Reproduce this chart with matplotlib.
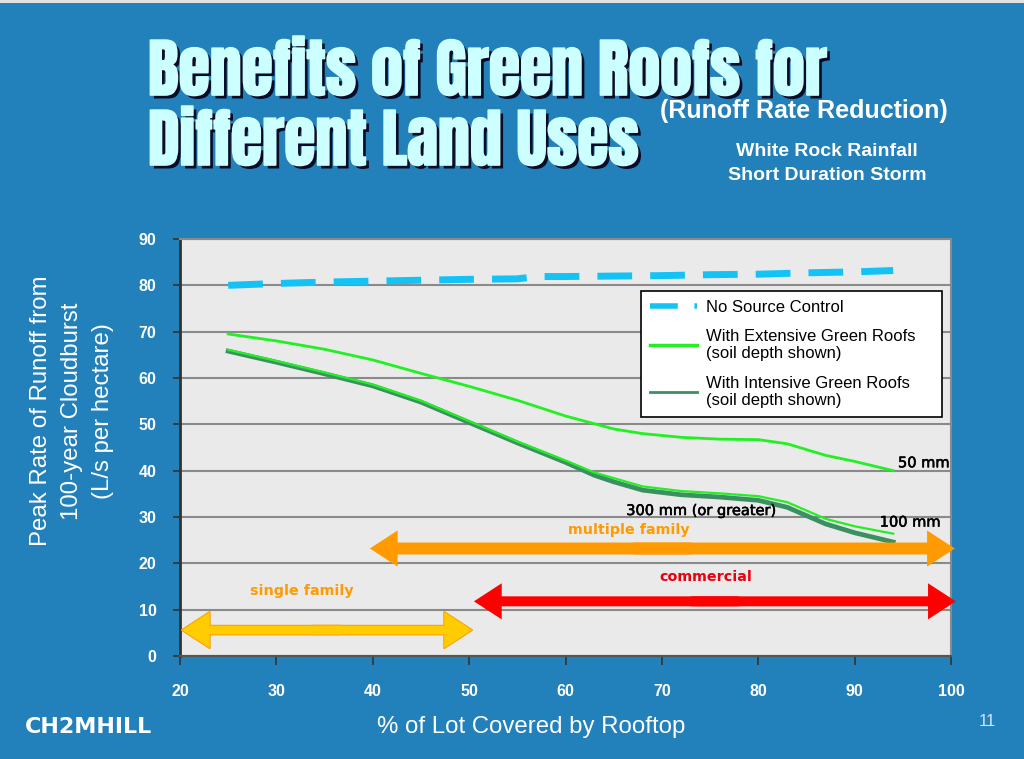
import matplotlib
matplotlib.use("Agg")
import matplotlib.pyplot as plt
from matplotlib import patheffects as pe
from matplotlib.patches import FancyArrowPatch, ArrowStyle, Rectangle
from matplotlib.lines import Line2D

# ---------------- data ----------------
x_ticks = [20, 30, 40, 50, 60, 70, 80, 90, 100]
y_ticks = [0, 10, 20, 30, 40, 50, 60, 70, 80, 90]

x_nosource = [25, 30, 35, 40, 45, 50, 55, 57, 60, 65, 70, 75, 80, 85, 90, 94]
y_nosource = [80.0, 80.4, 80.7, 80.9, 81.1, 81.3, 81.4, 81.9, 81.9, 82.0, 82.1, 82.3, 82.4, 82.7, 82.9, 83.2]

x_ext50 = [25, 30, 35, 40, 45, 50, 55, 60, 65, 68, 72, 76, 80, 83, 87, 90, 94]
y_ext50 = [69.5, 68.0, 66.2, 63.9, 61.0, 58.2, 55.2, 51.8, 49.0, 48.0, 47.2, 46.8, 46.7, 45.8, 43.3, 42.0, 40.0]

x_int300 = [25, 30, 35, 40, 45, 50, 55, 60, 63, 65, 68, 72, 76, 80, 83, 87, 90, 94]
y_int300 = [65.8, 63.4, 60.9, 58.3, 54.8, 50.4, 46.0, 41.8, 39.0, 37.6, 35.8, 34.8, 34.3, 33.6, 32.1, 28.5, 26.6, 24.6]

x_ext100 = [25, 30, 35, 40, 45, 50, 55, 60, 63, 65, 68, 72, 76, 80, 83, 87, 90, 94]
y_ext100 = [66.1, 63.7, 61.2, 58.6, 55.1, 50.7, 46.3, 42.2, 39.6, 38.4, 36.6, 35.6, 35.1, 34.5, 33.2, 29.6, 28.0, 26.4]

# land-use ranges (x start, x end, y level)
land_uses = ["multiple family", "commercial", "single family"]
land_x0 = [39.7, 50.5, 20.2]
land_x1 = [100.4, 100.5, 50.3]
land_y = [23.2, 11.8, 5.6]
land_label_x = [66.6, 74.6, 32.6]
land_label_y = [27.3, 17.0, 14.1]

depth_labels = ["50 mm", "100 mm", "300 mm (or greater)"]
depth_x = [94.5, 92.6, 66.3]
depth_y = [41.7, 28.9, 31.4]

legend_labels = ["No Source Control",
                 "With Extensive Green Roofs\n(soil depth shown)",
                 "With Intensive Green Roofs\n(soil depth shown)"]

# ---------------- style ----------------
BG = '#2280BA'
CYAN = '#14C3F5'
BRIGHT = '#22F022'
DARK = '#3A9060'
TITLE = '#CCFFFF'
plt.rcParams['font.family'] = ['Liberation Sans', 'DejaVu Sans']
plt.rcParams['lines.scale_dashes'] = False

fig = plt.figure(figsize=(10.24, 7.59), dpi=100, facecolor=BG)
fig.patches.append(Rectangle((0, 1 - 3 / 759), 1, 3 / 759, transform=fig.transFigure,
                             facecolor='#E4E2DE', edgecolor='none'))

ax = fig.add_axes([180 / 1024, 1 - 656 / 759, 771 / 1024, 417 / 759])
ax.set_facecolor('#EAEAEA')
ax.set_xlim(20, 100)
ax.set_ylim(0, 90)
ax.set_xticks(x_ticks)
ax.set_yticks(y_ticks)
ax.tick_params(axis='both', colors='#333333', labelcolor='white', direction='out',
               labelsize=11.5, width=1.2)
ax.tick_params(axis='y', length=5, pad=12)
ax.tick_params(axis='x', length=6.5, pad=14)
for lab in ax.get_xticklabels() + ax.get_yticklabels():
    lab.set_fontweight('bold')
ax.grid(axis='y', color='#8A8A8A', lw=1.5)
ax.set_axisbelow(True)
for s in ['top', 'right']:
    ax.spines[s].set_color('#8A8A8A')
    ax.spines[s].set_linewidth(1.5)
ax.spines['left'].set_color('#333333')
ax.spines['left'].set_linewidth(2)
ax.spines['bottom'].set_color('#555555')
ax.spines['bottom'].set_linewidth(1.5)

# lines
ax.plot(x_nosource, y_nosource, color=CYAN, lw=5, dashes=(25, 13), solid_capstyle='butt',
        dash_capstyle='butt', zorder=3)
ax.plot(x_ext50, y_ext50, color=BRIGHT, lw=2, zorder=3)
ax.plot(x_int300, y_int300, color=DARK, lw=3.4, zorder=3)
ax.plot(x_ext100, y_ext100, color=BRIGHT, lw=1.6, zorder=3)


def double_arrow(x0, x1, y, face, edge, tail, hw, hl):
    mid = (x0 + x1) / 2
    span = (x1 - x0) * 0.05
    style = ArrowStyle.Simple(head_length=hl, head_width=hw, tail_width=tail)
    layers = []
    if edge is not None:
        layers.append(dict(fc=edge, ec=edge, lw=1.4, z=4))
    layers.append(dict(fc=face, ec='none', lw=0, z=5))
    for L in layers:
        for a, b in [(mid - span, x1), (mid + span, x0)]:
            p = FancyArrowPatch((a, y), (b, y), arrowstyle=style, mutation_scale=1,
                                shrinkA=0, shrinkB=0, facecolor=L['fc'], edgecolor=L['ec'],
                                lw=L['lw'], zorder=L['z'], clip_on=False)
            ax.add_patch(p)


double_arrow(land_x0[0], land_x1[0], land_y[0], '#FF9A00', None, 8.6, 26, 20)
double_arrow(land_x0[1], land_x1[1], land_y[1], '#FF0000', None, 7.2, 26, 20)
double_arrow(land_x0[2], land_x1[2], land_y[2], '#FFCC00', '#FF9A00', 6.2, 26, 20)

land_colors = ['#FF9A00', '#E8000E', '#FF9A00']
for lab, lx, ly, c in zip(land_uses, land_label_x, land_label_y, land_colors):
    ax.text(lx, ly, lab, color=c, fontsize=10.3, fontweight='bold', ha='center', va='center',
            family='DejaVu Sans', zorder=6)

for lab, lx, ly in zip(depth_labels, depth_x, depth_y):
    ax.text(lx, ly, lab, color='black', fontsize=10.5, ha='left', va='center',
            family='DejaVu Sans', zorder=6,
            path_effects=[pe.Stroke(linewidth=0.4, foreground='black'), pe.Normal()])

handles = [Line2D([], [], color=CYAN, lw=4, dashes=(20, 12)),
           Line2D([], [], color=BRIGHT, lw=2.5),
           Line2D([], [], color=DARK, lw=2)]
leg = ax.legend(handles, legend_labels, loc='upper left',
                bbox_to_anchor=(0.598, 0.876, 0.39, 0.0), mode='expand',
                fontsize=12, frameon=True, fancybox=False, edgecolor='black',
                framealpha=1, facecolor='white', handlelength=2.8, handletextpad=0.55,
                borderpad=0.55, labelspacing=0.85, borderaxespad=0)
leg.get_frame().set_linewidth(1.2)
leg.set_zorder(7)

# axis labels
fig.text(531 / 1024, 1 - 727 / 759, "% of Lot Covered by Rooftop", color='white',
         fontsize=17.3, ha='center', va='center')
fig.text(72 / 1024, 1 - 411 / 759, "Peak Rate of Runoff from\n100-year Cloudburst\n(L/s per hectare)",
         color='white', fontsize=17.3, ha='center', va='center', rotation=90,
         linespacing=1.5, multialignment='center')

# titles
title_fx = [pe.SimplePatchShadow(offset=(2.5, -2.5), shadow_rgbFace='#0B0B26', alpha=1),
            pe.Stroke(linewidth=1.2, foreground=TITLE), pe.Normal()]
fig.text(148 / 1024, 1 - 95 / 759, "Benefits of Green Roofs for", family='Anton',
         fontsize=46, color=TITLE, ha='left', va='baseline', path_effects=title_fx)
fig.text(148 / 1024, 1 - 165 / 759, "Different Land Uses", family='Anton',
         fontsize=46, color=TITLE, ha='left', va='baseline', path_effects=title_fx)
fig.text(804 / 1024, 1 - 111 / 759, "(Runoff Rate Reduction)", color='white',
         fontsize=18, fontweight='bold', ha='center', va='center')
fig.text(827 / 1024, 1 - 152 / 759, "White Rock Rainfall", color='white',
         fontsize=14, fontweight='bold', ha='center', va='center')
fig.text(827 / 1024, 1 - 175 / 759, "Short Duration Storm", color='white',
         fontsize=14, fontweight='bold', ha='center', va='center')

# footer
fig.text(25 / 1024, 1 - 727 / 759, "CH2MHILL", color='white', fontsize=16,
         fontweight='bold', family='DejaVu Sans', ha='left', va='center')
fig.text(987 / 1024, 1 - 722 / 759, "11", color='#CFE6F6', fontsize=12,
         ha='center', va='center')

fig.savefig("out.png", dpi=100, facecolor=BG)
